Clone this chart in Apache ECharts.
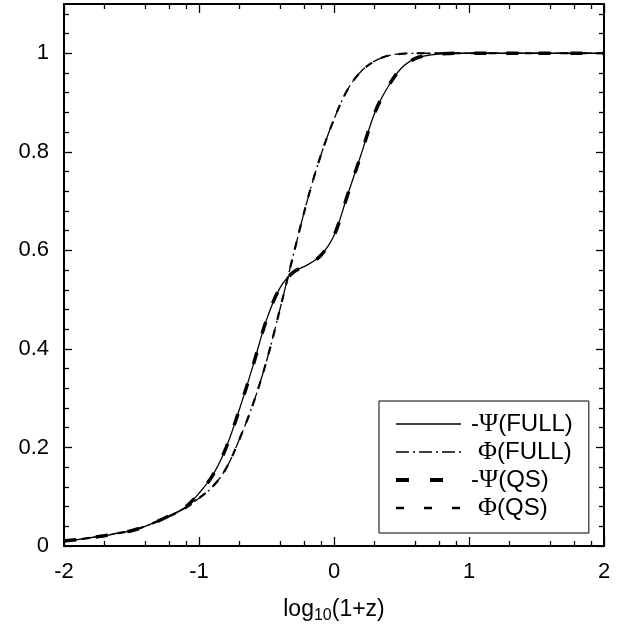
<!DOCTYPE html>
<html><head><meta charset="utf-8">
<script src="https://cdn.jsdelivr.net/npm/echarts@6/dist/echarts.min.js"></script>
<style>html,body{margin:0;padding:0;background:#fff}#c{width:637px;height:625px}</style>
</head><body><div id="c"></div>
<script>
// x = log10(1+z)
const xs = [-2.0,-1.9,-1.8,-1.7,-1.6,-1.5,-1.4,-1.3,-1.2,-1.1,-1.0,-0.9,-0.8,-0.7,-0.6,-0.5,-0.4,-0.3,-0.2,-0.1,
            0.0,0.1,0.2,0.3,0.4,0.5,0.6,0.7,0.8,0.9,1.0,1.1,1.2,1.3,1.4,1.5,1.6,1.7,1.8,1.9,2.0];
const psiFull = [0.010,0.013,0.017,0.021,0.026,0.031,0.040,0.051,0.064,0.079,0.107,0.143,0.199,0.278,0.366,0.459,0.524,0.556,0.570,0.589,
                 0.630,0.712,0.794,0.878,0.932,0.970,0.989,0.996,0.999,1.000,1.000,1.000,1.000,1.000,1.000,1.000,1.000,1.000,1.000,1.000,1.000];
const phiFull = [0.010,0.013,0.017,0.021,0.026,0.031,0.040,0.051,0.063,0.077,0.097,0.120,0.157,0.217,0.288,0.375,0.481,0.592,0.699,0.791,
                 0.866,0.926,0.963,0.984,0.995,0.999,1.000,1.000,1.000,1.000,1.000,1.000,1.000,1.000,1.000,1.000,1.000,1.000,1.000,1.000,1.000];
const psiQS = [0.010,0.013,0.017,0.021,0.026,0.031,0.040,0.051,0.064,0.079,0.107,0.143,0.199,0.278,0.366,0.459,0.524,0.556,0.570,0.589,
               0.630,0.712,0.794,0.878,0.932,0.970,0.989,0.996,0.999,1.000,1.000,1.000,1.000,1.000,1.000,1.000,1.000,1.000,1.000,1.000,1.000];
const phiQS = [0.010,0.013,0.017,0.021,0.026,0.031,0.040,0.051,0.063,0.077,0.097,0.120,0.157,0.217,0.288,0.375,0.481,0.592,0.699,0.791,
               0.866,0.926,0.963,0.984,0.995,0.999,1.000,1.000,1.000,1.000,1.000,1.000,1.000,1.000,1.000,1.000,1.000,1.000,1.000,1.000,1.000];
const seriesNames = ['-\u03A8(FULL)', '\u03A6(FULL)', '-\u03A8(QS)', '\u03A6(QS)'];
const xMajorTicks = [-2, -1, 0, 1, 2];
const xDecades = [-2, -1, 0, 1];
const xMinorMultipliers = [2, 4, 6, 8];
const yMajorTicks = [0, 0.2, 0.4, 0.6, 0.8, 1.0];
const yMinorTicks = [0.04,0.08,0.12,0.16,0.24,0.28,0.32,0.36,0.44,0.48,0.52,0.56,0.64,0.68,0.72,0.76,0.84,0.88,0.92,0.96,1.04,1.08];

const xMinorTicks = [];
xDecades.forEach(d => xMinorMultipliers.forEach(m => xMinorTicks.push(d + Math.log10(m))));

const pairs = arr => xs.map((x, i) => [x, arr[i]]);
const FONT = 'Liberation Sans, Arial, Helvetica, sans-serif';
const SERIF = 'Liberation Serif, DejaVu Serif, serif';
const black = '#000';

function xAx(pos, major, withLabels) {
  return {
    type: 'value', min: -2, max: 2, interval: 1, position: pos,
    axisLine: { show: major, onZero: false, lineStyle: { color: black, width: 2 } },
    axisTick: { show: true, inside: true, length: major ? 9 : 5,
      customValues: major ? xMajorTicks : xMinorTicks, lineStyle: { color: black, width: 1.3 } },
    axisLabel: { show: withLabels, customValues: xMajorTicks, color: black, fontSize: 22, fontFamily: FONT, margin: 15 },
    splitLine: { show: false },
    name: withLabels ? 'log{sub|10}(1+z)' : '',
    nameLocation: 'middle', nameGap: 49,
    nameTextStyle: { color: black, fontSize: 23, fontFamily: FONT,
      rich: { sub: { fontSize: 16, fontFamily: FONT, color: black, padding: [13, 0, 0, 0] } } }
  };
}
function yAx(pos, major, withLabels) {
  return {
    type: 'value', min: 0, max: 1.1, position: pos,
    axisLine: { show: major, onZero: false, lineStyle: { color: black, width: 2 } },
    axisTick: { show: true, inside: true, length: major ? 8 : 5,
      customValues: major ? yMajorTicks : yMinorTicks, lineStyle: { color: black, width: 1.3 } },
    axisLabel: { show: withLabels, customValues: yMajorTicks, color: black, fontSize: 22, fontFamily: FONT, margin: 15 },
    splitLine: { show: false }
  };
}

const legendStyles = [
  { width: 1.3, type: 'solid' },
  { width: 1.3, type: [13, 4, 2, 4] },
  { width: 4, type: [13, 21] },
  { width: 2.5, type: [8, 20] }
];

const chart = echarts.init(document.getElementById('c'), null, { renderer: 'canvas' });
const lineBase = { type: 'line', xAxisIndex: 0, yAxisIndex: 0, showSymbol: false, symbol: 'none',
  smooth: 0.35, animation: false, itemStyle: { color: black } };
chart.setOption({
  animation: false,
  backgroundColor: '#fff',
  grid: { left: 64, right: 33, top: 4, bottom: 79, containLabel: false, outerBoundsMode: 'none' },
  xAxis: [xAx('bottom', true, true), xAx('bottom', false, false), xAx('top', true, false), xAx('top', false, false)],
  yAxis: [yAx('left', true, true), yAx('left', false, false), yAx('right', true, false), yAx('right', false, false)],
  legend: {
    orient: 'vertical', left: 379, top: 401,
    itemWidth: 65, itemHeight: 14, itemGap: 2,
    padding: [10, 16, 12, 15],
    borderColor: black, borderWidth: 1, backgroundColor: '#fff',
    selectedMode: false,
    itemStyle: { opacity: 0 },
    textStyle: { color: black, fontSize: 24, lineHeight: 24, fontFamily: FONT, padding: [0, 0, 0, 5],
      rich: { g: { fontFamily: SERIF, fontSize: 26, lineHeight: 24, color: black },
              gi: { fontFamily: SERIF, fontSize: 26, lineHeight: 24, color: black, padding: [0, 0, 0, 7] } } },
    formatter: function (name) {
      if (name.indexOf('\u03A8') >= 0) return '-{g|\u03A8}' + name.slice(2);
      return '{gi|\u03A6}' + name.slice(1);
    },
    data: seriesNames.map((n, i) => ({ name: n, itemStyle: { opacity: 0 },
      lineStyle: Object.assign({ color: black }, legendStyles[i]) }))
  },
  series: [
    Object.assign({}, lineBase, { name: seriesNames[0], data: pairs(psiFull), z: 4,
      lineStyle: { color: black, width: 1.3, type: 'solid' } }),
    Object.assign({}, lineBase, { name: seriesNames[1], data: pairs(phiFull), z: 4,
      lineStyle: { color: black, width: 1.3, type: [13, 4, 2, 4] } }),
    Object.assign({}, lineBase, { name: seriesNames[2], data: pairs(psiQS), z: 3,
      lineStyle: { color: black, width: 3.5, type: [12, 20] } }),
    Object.assign({}, lineBase, { name: seriesNames[3], data: pairs(phiQS), z: 3,
      lineStyle: { color: black, width: 2.2, type: [8, 10] } })
  ]
});
</script>
</body></html>
